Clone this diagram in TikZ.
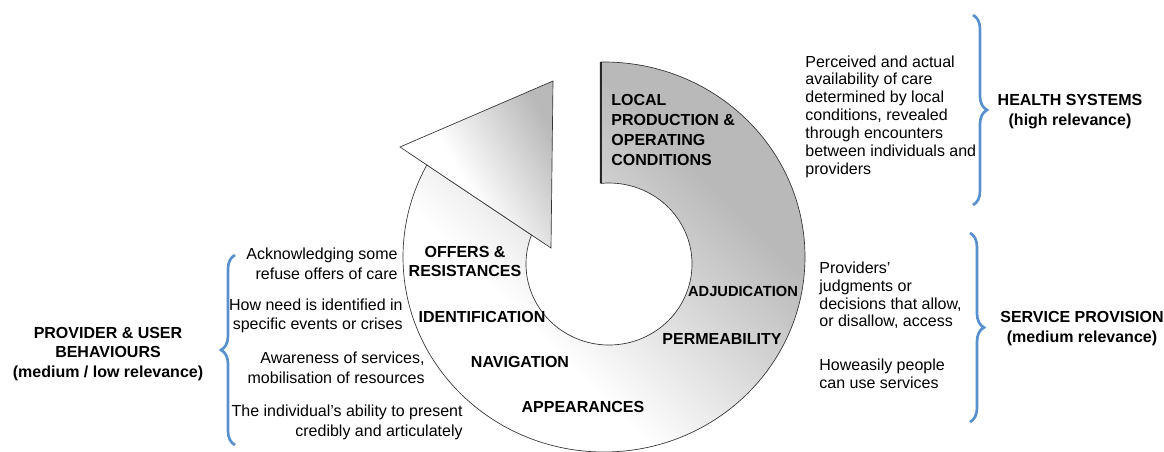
\documentclass[tikz,border=0pt]{standalone}
\usepackage{fontspec}
\setmainfont{Liberation Sans}
\usepackage{tikz}
\usetikzlibrary{calc,decorations.pathreplacing}
\definecolor{ringgray}{RGB}{185,185,185}
\definecolor{braceblue}{RGB}{88,145,205}
\pgfdeclareverticalshading{ringshade}{100bp}{color(0bp)=(white); color(37bp)=(white); color(66bp)=(ringgray); color(100bp)=(ringgray)}
\pgfdeclareverticalshading{headshade}{100bp}{color(0bp)=(white); color(44bp)=(white); color(76bp)=(ringgray); color(100bp)=(ringgray)}

\begin{document}
\begin{tikzpicture}[x=0.75pt,y=0.75pt,semithick]
  \tikzstyle{txt}=[inner sep=0pt,font=\fontsize{12}{13.2}\selectfont]
  \tikzstyle{ltxt}=[txt,align=right,anchor=east,font=\fontsize{12}{14.6}\selectfont]
  \tikzstyle{rtxt}=[txt,align=left,anchor=west]
  \tikzstyle{stage}=[inner sep=0pt,align=center,font=\bfseries\fontsize{12}{14.5}\selectfont]
  \tikzstyle{curly}=[draw=braceblue,line width=2pt,decorate,decoration={brace,amplitude=10.5pt}]
  \tikzstyle{ringfill}=[shading=ringshade,shading angle=-45,draw=black!80,line width=0.5pt]
  \tikzstyle{headfill}=[shading=headshade,shading angle=-60,draw=black!80,line width=0.5pt]

  \useasboundingbox (0,0) rectangle (1164,451);

  % the ring and its arrow head
  \coordinate (oc) at (604,194);
  \coordinate (ic) at (609,187);
  \coordinate (otop) at ($(oc)+(90.9:201 and 195)$);
  \coordinate (itop) at ($(ic)+(95.6:83 and 81)$);
  \coordinate (imeet) at ($(ic)+(159:83 and 81)$);
  \coordinate (tipL) at (400,304);
  \coordinate (tipT) at (553,370);
  \coordinate (tipB) at (551,203);

  \shade[ringfill] (otop) arc[start angle=90.9,end angle=-208.2,x radius=201,y radius=195]
    -- (imeet) arc[start angle=-201,end angle=95.6,x radius=83,y radius=81] -- cycle;
  \shade[headfill] (tipL) -- (tipT) -- (tipB) -- cycle;
  \draw[line width=1.5pt,black!85] (otop) -- (itop);

  \node[stage,align=left,anchor=west,font=\bfseries\fontsize{12}{15}\selectfont] (local) at (611,321)
    {LOCAL\\PRODUCTION \&\\OPERATING\\CONDITIONS};
  \node[stage] (offers) at (465,189.5) {OFFERS \&\\RESISTANCES};
  \node[stage] (ident)  at (482,134)   {IDENTIFICATION};
  \node[stage] (navig)  at (520,89)    {NAVIGATION};
  \node[stage] (appear) at (583,44)    {APPEARANCES};
  \node[stage,font=\bfseries\fontsize{11}{13}\selectfont] (adjud) at (743,160) {ADJUDICATION};
  \node[stage] (perm)   at (722,112)   {PERMEABILITY};

  % right hand side
  \node[rtxt,font=\fontsize{12}{13.4}\selectfont] (avail) at (805,334.5)
    {Perceived and actual\\availability of care\\determined by local\\conditions, revealed\\through encounters\\between individuals and\\providers};
  \node[rtxt] (judg) at (819,155.5) {Providers'\\judgments or\\decisions that allow,\\or disallow, access};
  \node[rtxt] (easy) at (819,77) {Howeasily people\\can use services};

  \coordinate (hsA) at (973,436);
  \coordinate (hsB) at (973,246);
  \coordinate (spA) at (970,218);
  \coordinate (spB) at (970,29);
  \draw[curly] (hsA) -- (hsB);
  \draw[curly] (spA) -- (spB);

  \node[stage,font=\bfseries\fontsize{12}{15}\selectfont] (health) at (1070,339) {HEALTH SYSTEMS\\(high relevance)};
  \node[stage] (service) at (1082,122.5) {SERVICE PROVISION\\(medium relevance)};

  % left hand side
  \node[ltxt] (offtxt) at (398,187)  {Acknowledging some\\refuse offers of care};
  \node[ltxt] (idtxt)  at (403,135)  {How need is identified in\\specific events or crises};
  \node[ltxt] (navtxt) at (425,83)   {Awareness of services,\\mobilisation of resources};
  \node[ltxt] (apptxt) at (463,28.5) {The individual's ability to present\\credibly and articulately};

  \coordinate (pubA) at (235,6);
  \coordinate (pubB) at (235,196);
  \draw[curly] (pubA) -- (pubB);

  \node[stage] (behav) at (108,97) {PROVIDER \& USER\\BEHAVIOURS\\(medium / low relevance)};

\end{tikzpicture}
\end{document}
